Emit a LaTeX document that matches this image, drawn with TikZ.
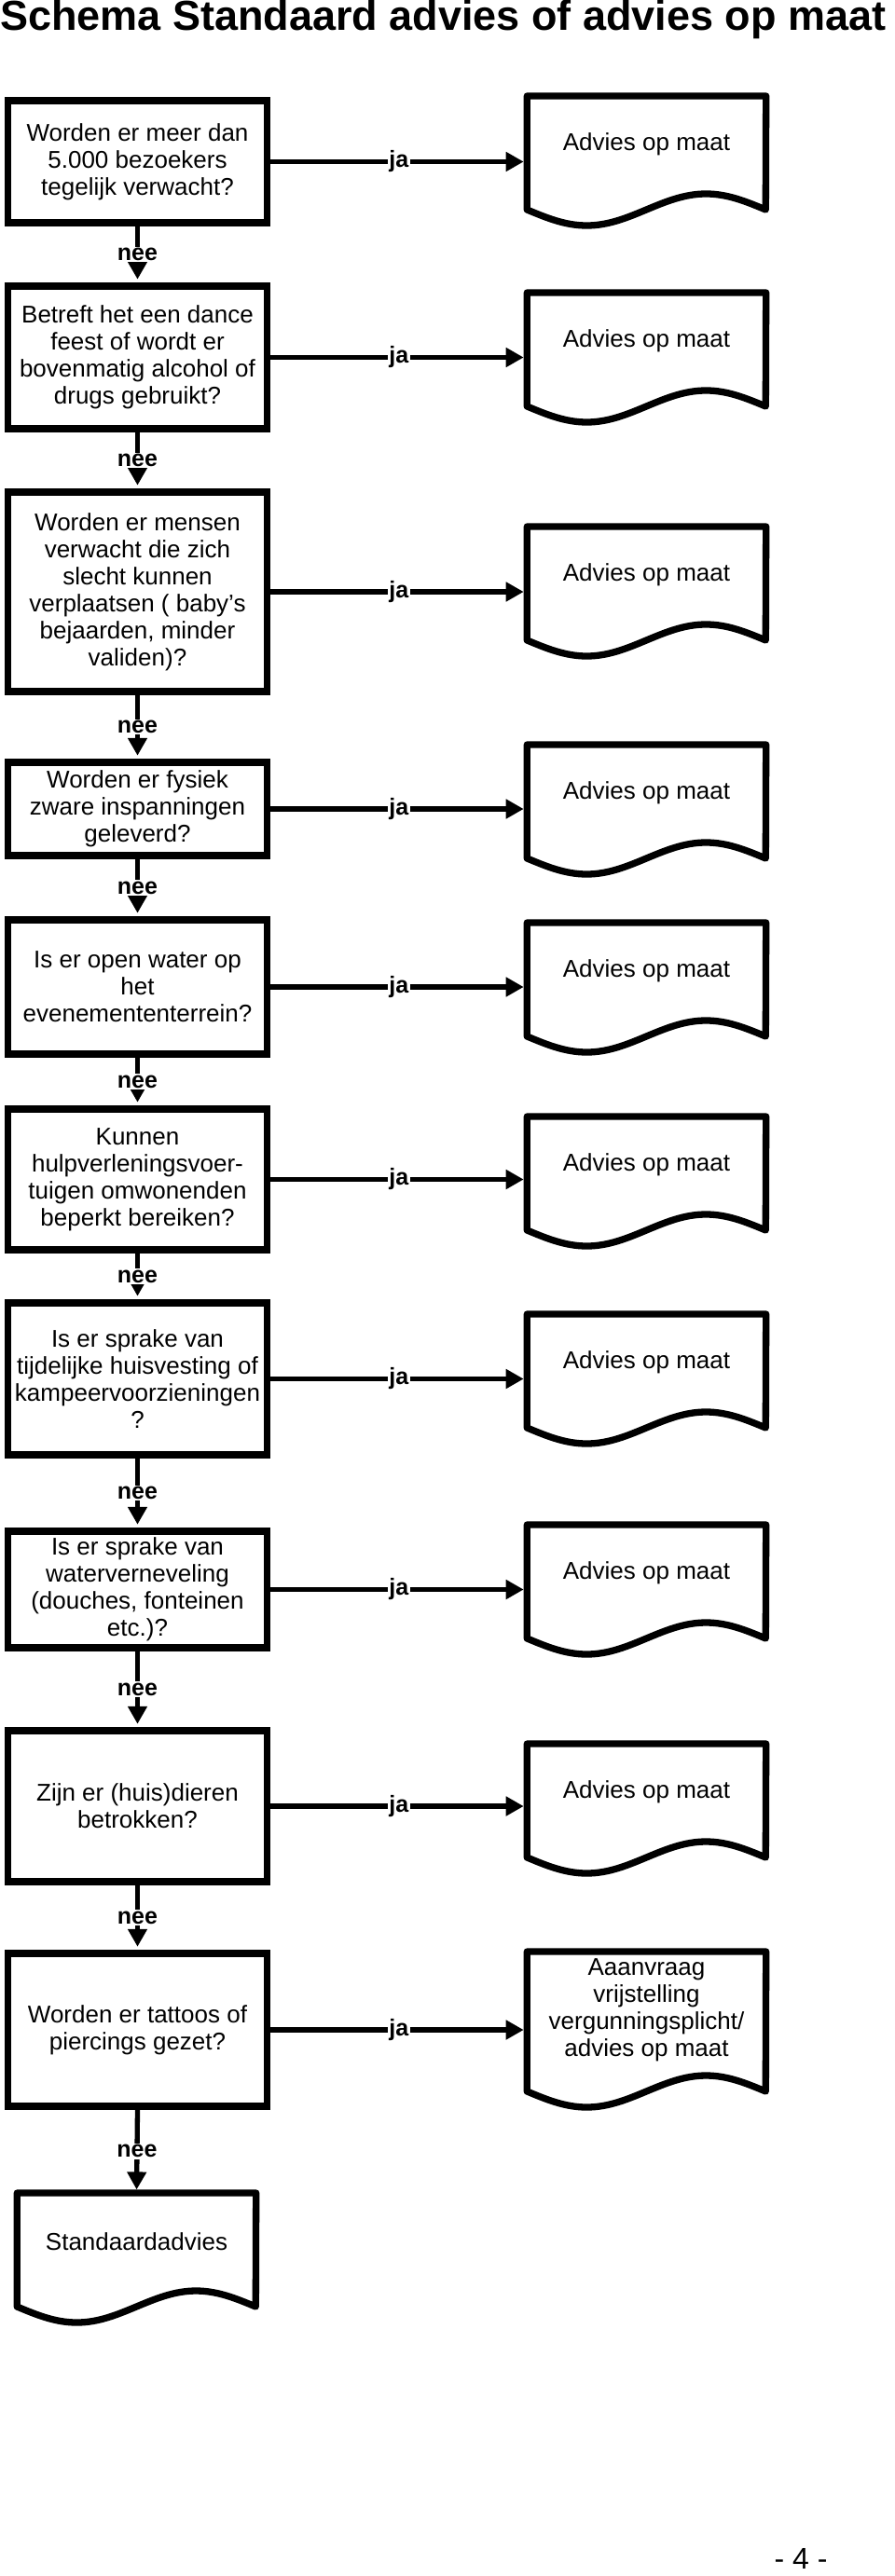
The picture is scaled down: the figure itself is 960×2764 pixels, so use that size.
\documentclass[tikz,border=0pt]{standalone}
\usepackage{fontspec}
\setmainfont{Liberation Sans}
\usetikzlibrary{arrows.meta}

\begin{document}
\begin{tikzpicture}[
    x=1pt, y=1pt,
    >={Triangle[length=19pt,width=20pt]},
    vraag/.style={
        rectangle,
        draw,
        line width=7.3pt,
        minimum width=278pt,
        minimum height=#1,
        inner sep=0pt,
        align=center,
        font=\fontsize{26}{29}\selectfont
    },
    advies/.style={
        rectangle,
        anchor=north,
        minimum width=256pt,
        minimum height=#1,
        inner sep=0pt,
        align=center,
        font=\fontsize{26}{29}\selectfont
    },
    docline/.style={line width=7.3pt,line join=round},
    flow/.style={->,line width=5.3pt,shorten >=3.6pt},
    antw/.style={
        fill=white,
        inner sep=1.5pt,
        font=\bfseries\fontsize{25}{25}\selectfont
    }
]

\useasboundingbox (0,0) rectangle (960,-2764);

% Title
\node[anchor=base west,inner sep=0pt,font=\bfseries\fontsize{45}{54}\selectfont] (titel) at (0,-33) {Schema Standaard advies of advies op maat};

% Questions
\node[vraag=131pt] (v1) at (147.5,-173.5) {Worden er meer dan\\5.000 bezoekers\\tegelijk verwacht?};
\node[vraag=153pt] (v2) at (147.5,-383.5) {Betreft het een dance\\feest of wordt er\\bovenmatig alcohol of\\drugs gebruikt?};
\node[vraag=214pt] (v3) at (147.5,-635) {Worden er mensen\\verwacht die zich\\slecht kunnen\\verplaatsen ( baby’s\\bejaarden, minder\\validen)?};
\node[vraag=100pt] (v4) at (147.5,-868) {Worden er fysiek\\zware inspanningen\\geleverd?};
\node[vraag=144pt] (v5) at (147.5,-1059) {Is er open water op\\het\\evenemententerrein?};
\node[vraag=151pt] (v6) at (147.5,-1265.5) {Kunnen\\hulpverleningsvoer-\\tuigen omwonenden\\beperkt bereiken?};
\node[vraag=163pt] (v7) at (147.5,-1479.5) {Is er sprake van\\tijdelijke huisvesting of\\kampeervoorzieningen\\?};
\node[vraag=125pt] (v8) at (147.5,-1705.5) {Is er sprake van\\waterverneveling\\(douches, fonteinen\\etc.)?};
\node[vraag=162pt] (v9) at (147.5,-1938) {Zijn er (huis)dieren\\betrokken?};
\node[vraag=164pt] (v10) at (147.5,-2178) {Worden er tattoos of\\piercings gezet?};

% Outcomes
\node[advies=104pt] (a1) at (693.5,-103) {Advies op maat};
\node[advies=104pt] (a2) at (693.5,-314) {Advies op maat};
\node[advies=104pt] (a3) at (693.5,-565) {Advies op maat};
\node[advies=104pt] (a4) at (693.5,-799) {Advies op maat};
\node[advies=104pt] (a5) at (693.5,-990) {Advies op maat};
\node[advies=104pt] (a6) at (693.5,-1198) {Advies op maat};
\node[advies=104pt] (a7) at (693.5,-1410) {Advies op maat};
\node[advies=104pt] (a8) at (693.5,-1636) {Advies op maat};
\node[advies=104pt] (a9) at (693.5,-1871) {Advies op maat};
\node[advies=126pt] (a10) at (693.5,-2094) {Aaanvraag\\vrijstelling\\vergunningsplicht/\\advies op maat};
\node[advies=104pt] (std) at (146.5,-2353) {Standaardadvies};

% Document outlines with wavy bottom
\foreach \uit/\hg in {a1/122,a2/122,a3/122,a4/122,a5/122,a6/122,a7/122,a8/122,a9/122,a10/150,std/122}
    \draw[docline] (\uit.north west) -- ++(0,-\hg) sin ++(64,-17) cos ++(64,17) sin ++(64,17) cos ++(64,-17) -- (\uit.north east) -- cycle;

% ja
\draw[flow] (v1.east) -- node[antw] {ja} (v1.east -| a1.west);
\draw[flow] (v2.east) -- node[antw] {ja} (v2.east -| a2.west);
\draw[flow] (v3.east) -- node[antw] {ja} (v3.east -| a3.west);
\draw[flow] (v4.east) -- node[antw] {ja} (v4.east -| a4.west);
\draw[flow] (v5.east) -- node[antw] {ja} (v5.east -| a5.west);
\draw[flow] (v6.east) -- node[antw] {ja} (v6.east -| a6.west);
\draw[flow] (v7.east) -- node[antw] {ja} (v7.east -| a7.west);
\draw[flow] (v8.east) -- node[antw] {ja} (v8.east -| a8.west);
\draw[flow] (v9.east) -- node[antw] {ja} (v9.east -| a9.west);
\draw[flow] (v10.east) -- node[antw] {ja} (v10.east -| a10.west);

% nee
\draw[flow] (v1.south) -- node[antw] {nee} (v2.north);
\draw[flow] (v2.south) -- node[antw] {nee} (v3.north);
\draw[flow] (v3.south) -- node[antw] {nee} (v4.north);
\draw[flow] (v4.south) -- node[antw] {nee} (v5.north);
\draw[flow] (v5.south) -- node[antw] {nee} (v6.north);
\draw[flow] (v6.south) -- node[antw] {nee} (v7.north);
\draw[flow] (v7.south) -- node[antw] {nee} (v8.north);
\draw[flow] (v8.south) -- node[antw] {nee} (v9.north);
\draw[flow] (v9.south) -- node[antw] {nee} (v10.north);
\draw[flow] (v10.south) -- node[antw] {nee} (std.north);

% Page number
\node[font=\fontsize{32}{32}\selectfont] (pagina) at (859,-2745) {- 4 -};

\end{tikzpicture}
\end{document}
